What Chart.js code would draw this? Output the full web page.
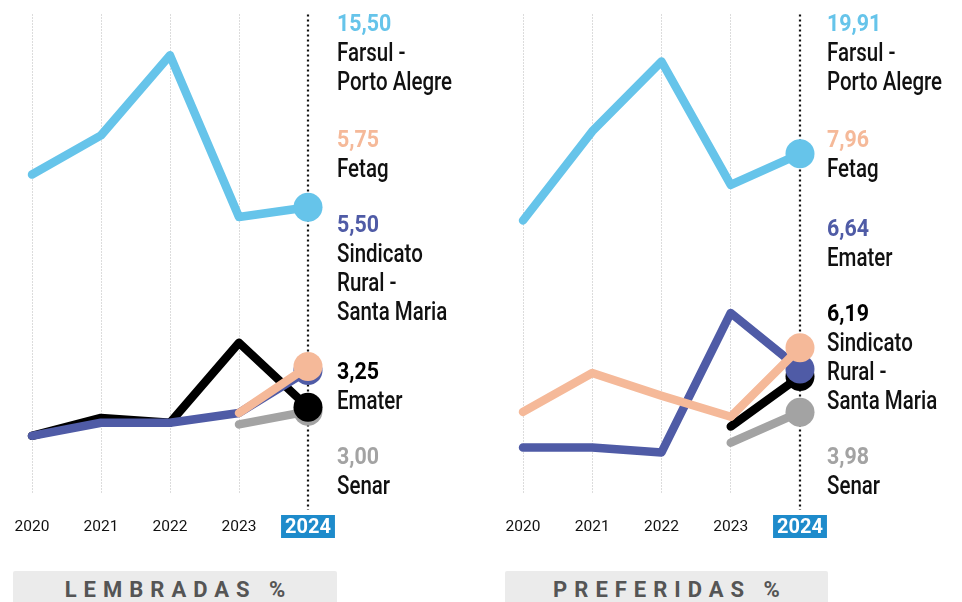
<!DOCTYPE html>
<html>
<head>
<meta charset="utf-8">
<script src="https://cdn.jsdelivr.net/npm/chart.js@4"></script>
<style>
  html, body { margin: 0; padding: 0; background: #fff; }
  #wrap { position: relative; width: 962px; height: 602px; overflow: hidden; background: #fff; }
  .cv { position: absolute; top: 0; }
  .lbl { position: absolute; font-family: "Roboto", sans-serif; color: #111; }
  .lbl div { line-height: 29px; font-size: 25px; font-weight: 500; white-space: nowrap; transform: scaleX(0.82); transform-origin: 0 0; }
  .lbl div.num { font-weight: bold; font-size: 23px; transform: scaleX(0.93); }
  .title { position: absolute; top: 571px; height: 40px; background: #ebebeb; color: #555;
           font-family: "Roboto", "Liberation Sans", sans-serif; font-weight: bold; font-size: 22px;
           letter-spacing: 7px; text-align: center; line-height: 38px; border-radius: 2px; }
  .title span { margin-right: -7px; }
</style>
</head>
<body>
<div id="wrap">
  <canvas id="c1" class="cv" width="480" height="560" style="left:0px;width:480px;height:560px"></canvas>
  <canvas id="c2" class="cv" width="482" height="560" style="left:480px;width:482px;height:560px"></canvas>
  <div id="labels1"></div>
  <div id="labels2"></div>
  <div class="title" style="left:13px;width:324px;"><span>LEMBRADAS %</span></div>
  <div class="title" style="left:505px;width:323px;"><span>PREFERIDAS %</span></div>
</div>
<script>
// ---------- DATA ----------
const years = ['2020', '2021', '2022', '2023', '2024'];

// Lembradas %
const lembFarsul    = [17.5, 19.9, 24.8, 14.9, 15.50];
const lembFetag     = [null, null, null, 2.9, 5.75];
const lembSindicato = [1.5, 2.3, 2.3, 2.9, 5.50];
const lembEmater    = [1.5, 2.6, 2.3, 7.2, 3.25];
const lembSenar     = [null, null, null, 2.2, 3.00];

// Preferidas %
const prefFarsul    = [15.8, 21.3, 25.6, 18.0, 19.91];
const prefFetag     = [4.0, 6.4, 5.0, 3.7, 7.96];
const prefEmater    = [1.8, 1.8, 1.5, 10.1, 6.64];
const prefSindicato = [null, null, null, 3.1, 6.19];
const prefSenar     = [null, null, null, 2.1, 3.98];

const nameFarsul = ['Farsul -', 'Porto Alegre'];
const nameFetag = ['Fetag'];
const nameSindicato = ['Sindicato', 'Rural -', 'Santa Maria'];
const nameEmater = ['Emater'];
const nameSenar = ['Senar'];

// ---------- STYLE ----------
const C_BLUE = '#66c4ea', C_PEACH = '#f5b999', C_PURPLE = '#4f5ba6', C_BLACK = '#000000', C_GRAY = '#a3a3a3';

const fmt = v => v.toFixed(2).replace('.', ',');

const vline2024 = {
  id: 'vline2024',
  beforeDatasetsDraw(chart) {
    const x = chart.scales.x.getPixelForValue(4);
    const a = chart.chartArea;
    const ctx = chart.ctx;
    ctx.save();
    ctx.strokeStyle = '#111';
    ctx.lineWidth = 2.2;
    ctx.setLineDash([2, 3]);
    ctx.beginPath();
    ctx.moveTo(x, a.top);
    ctx.lineTo(x, a.bottom + 17);
    ctx.stroke();
    ctx.restore();
  }
};

function ds(data, color) {
  return {
    data: data,
    borderColor: color,
    backgroundColor: color,
    borderWidth: 8.5,
    borderCapStyle: 'round',
    borderJoinStyle: 'round',
    pointRadius: c => c.dataIndex === 4 ? 14.5 : 0,
    pointHoverRadius: c => c.dataIndex === 4 ? 14.5 : 0,
    pointBorderWidth: 0,
    pointBackgroundColor: color,
    tension: 0,
    clip: false,
    spanGaps: false
  };
}

function makeChart(id, datasets, yMin, yMax, padLeft, padRight) {
  return new Chart(document.getElementById(id), {
    type: 'line',
    data: { labels: years, datasets: datasets },
    options: {
      responsive: false,
      animation: false,
      devicePixelRatio: 1,
      layout: { padding: { left: padLeft, right: padRight, top: 13, bottom: 0 } },
      plugins: { legend: { display: false }, tooltip: { enabled: false } },
      scales: {
        x: {
          offset: false,
          afterFit: s => { s.height = 67; s.paddingLeft = 0; s.paddingRight = 0; },
          border: { display: false, dash: [1, 2] },
          grid: {
            color: c => c.index < 4 ? '#b8b8b8' : 'rgba(0,0,0,0)',
            lineWidth: 1,
            drawTicks: false
          },
          ticks: {
            padding: 25,
            autoSkip: false,
            maxRotation: 0,
            color: c => c.index === 4 ? '#ffffff' : '#111111',
            font: c => c.index === 4
              ? { family: 'Roboto, sans-serif', size: 20, weight: 'bold', lineHeight: 1.0 }
              : { family: 'Roboto, sans-serif', size: 15.5, weight: 'normal', lineHeight: 1.2 },
            showLabelBackdrop: c => c.index === 4,
            backdropColor: '#1e8bcb',
            backdropPadding: { left: 4, right: 4, top: 3, bottom: 0 }
          }
        },
        y: {
          display: false,
          min: yMin,
          max: yMax
        }
      }
    },
    plugins: [vline2024]
  });
}

// order in array: first drawn on top
makeChart('c1', [
  ds(lembFarsul, C_BLUE),
  ds(lembFetag, C_PEACH),
  ds(lembSindicato, C_PURPLE),
  ds(lembEmater, C_BLACK),
  ds(lembSenar, C_GRAY)
], -2.0, 27.3, 32, 172);

makeChart('c2', [
  ds(prefFarsul, C_BLUE),
  ds(prefFetag, C_PEACH),
  ds(prefEmater, C_PURPLE),
  ds(prefSindicato, C_BLACK),
  ds(prefSenar, C_GRAY)
], -1.0, 28.5, 43, 162);

// ---------- LABELS (real text) ----------
function labelBlock(parentId, left, top, value, color, names) {
  const d = document.createElement('div');
  d.className = 'lbl';
  d.style.left = left + 'px';
  d.style.top = top + 'px';
  let html = '<div class="num" style="color:' + color + '">' + fmt(value) + '</div>';
  names.forEach(n => { html += '<div>' + n + '</div>'; });
  d.innerHTML = html;
  document.getElementById(parentId).appendChild(d);
}

labelBlock('labels1', 337, 9,   lembFarsul[4],    C_BLUE,   nameFarsul);
labelBlock('labels1', 337, 125, lembFetag[4],     C_PEACH,  nameFetag);
labelBlock('labels1', 337, 210, lembSindicato[4], C_PURPLE, nameSindicato);
labelBlock('labels1', 337, 357, lembEmater[4],    C_BLACK,  nameEmater);
labelBlock('labels1', 337, 442, lembSenar[4],     C_GRAY,   nameSenar);

labelBlock('labels2', 827, 9,   prefFarsul[4],    C_BLUE,   nameFarsul);
labelBlock('labels2', 827, 125, prefFetag[4],     C_PEACH,  nameFetag);
labelBlock('labels2', 827, 214, prefEmater[4],    C_PURPLE, nameEmater);
labelBlock('labels2', 827, 299, prefSindicato[4], C_BLACK,  nameSindicato);
labelBlock('labels2', 827, 442, prefSenar[4],     C_GRAY,   nameSenar);
</script>
</body>
</html>
